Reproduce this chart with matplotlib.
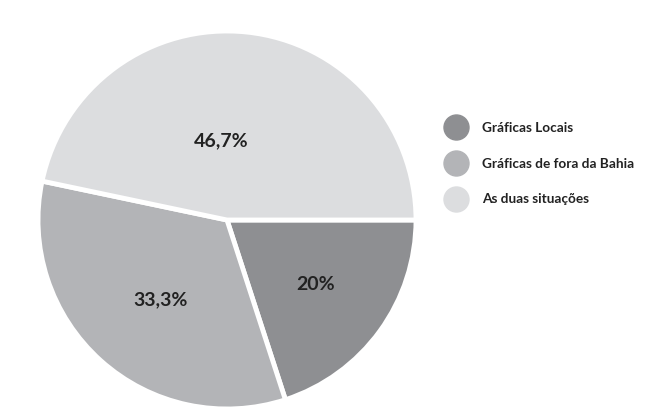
import numpy as np
import matplotlib
matplotlib.use("Agg")
import matplotlib.pyplot as plt
from matplotlib.lines import Line2D

plt.rcParams["font.family"] = ["Lato", "DejaVu Sans"]

# ---------------------------------------------------------------------------
# DATA
# ---------------------------------------------------------------------------

categorias = ["Gráficas Locais", "Gráficas de fora da Bahia", "As duas situações"]
percentuais = [20.0, 33.3, 46.7]
rotulos = ["20%", "33,3%", "46,7%"]
cores = ["#8e8f92", "#b3b4b7", "#dcdddf"]

# ---------------------------------------------------------------------------
# FIGURE
# ---------------------------------------------------------------------------

W, H = 665, 415
fig = plt.figure(figsize=(W / 100, H / 100), dpi=100)
fig.patch.set_facecolor("white")

# pie centre and radius in pixels
cx, cy, r = 227, 220, 189
ax = fig.add_axes([(cx - r) / W, (H - cy - r) / H, 2 * r / W, 2 * r / H])

wedges, _ = ax.pie(percentuais, colors=cores, startangle=0, counterclock=False,
                   radius=1.0,
                   wedgeprops=dict(edgecolor="white", linewidth=3.5))
ax.set_xlim(-1, 1)
ax.set_ylim(-1, 1)
ax.set_aspect("equal")
ax.axis("off")

# percentage labels: distance from centre and angular shift from mid-wedge
dist = [0.58, 0.55, 0.42]
shift = [0, 2, 10]
for w, txt, d, s in zip(wedges, rotulos, dist, shift):
    ang = np.deg2rad((w.theta1 + w.theta2) / 2 + s)
    ax.text(d * np.cos(ang), d * np.sin(ang), txt, ha="center", va="center",
            fontsize=14, fontweight="bold", color="#222222")

handles = [Line2D([0], [0], marker="o", linestyle="none", markersize=18,
                  markerfacecolor=c, markeredgecolor=c) for c in cores]
leg = fig.legend(handles, categorias, loc="center left",
                 bbox_to_anchor=(440 / W, 1 - 163.5 / H), frameon=False,
                 fontsize=9.8, labelspacing=1.75, handletextpad=1.2,
                 borderpad=0, handlelength=1.4)
for t in leg.get_texts():
    t.set_fontweight("bold")
    t.set_color("#222222")

fig.savefig("out.png", dpi=100, facecolor="white")
